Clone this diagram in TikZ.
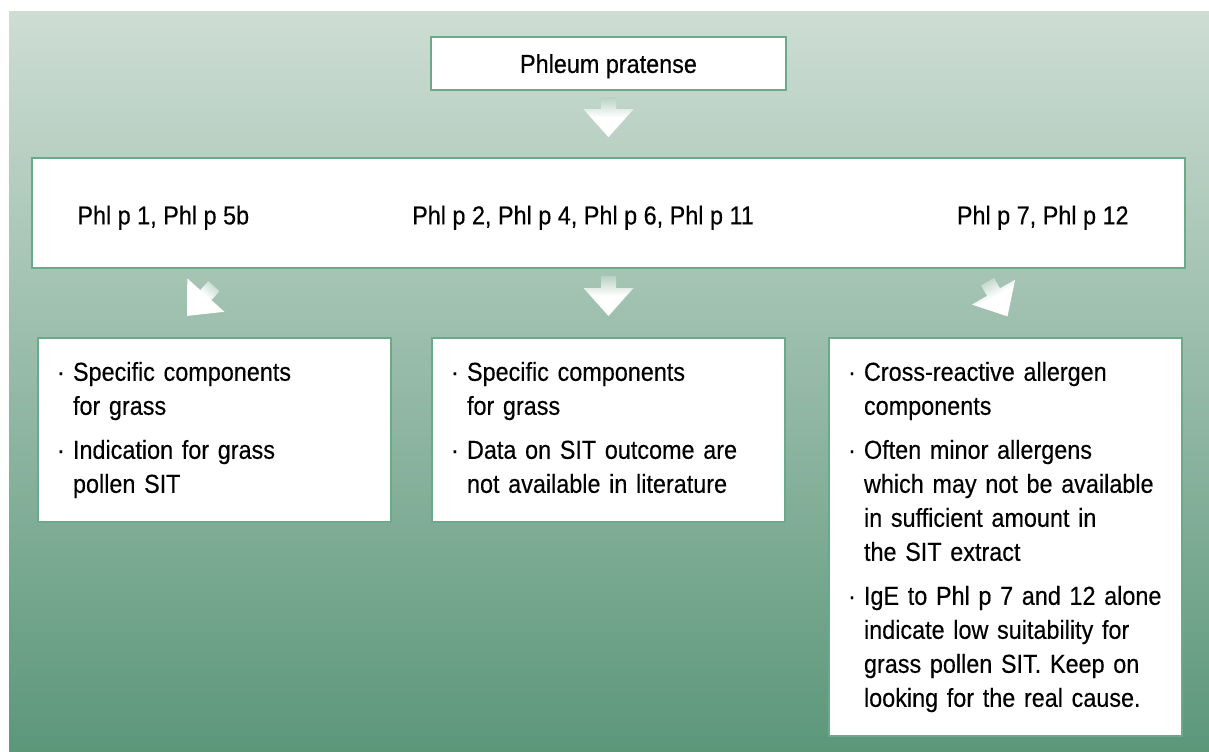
\documentclass[tikz,border=0pt]{standalone}
\usepackage{fontspec}
\setmainfont{Liberation Sans}[FakeStretch=0.9, FakeBold=0.3]
\usetikzlibrary{positioning, calc}

\definecolor{bgtop}{RGB}{206,221,212}
\definecolor{bgbot}{RGB}{92,151,122}
\definecolor{boxline}{RGB}{108,168,138}
\definecolor{tailc}{RGB}{185,210,196}

\newcommand{\dotitem}{\makebox[8pt][l]{\textperiodcentered}}

\begin{document}
\begin{tikzpicture}[
  x=0.5pt, y=-0.5pt,
  font=\fontsize{13}{17}\selectfont,
  box/.style={draw=boxline, line width=0.8pt, fill=white, inner sep=0pt, outer sep=0pt},
  txtbox/.style={box, anchor=north west, text width=157.5pt, inner xsep=9.5pt, inner ysep=9.5pt, align=left},
  lbl/.style={inner sep=0pt, text depth=0pt},
  blockarr/.pic={
    \shade[top color=tailc, bottom color=white, middle color=white, shading angle=#1]
      (-7.5,-20) -- (7.5,-20) -- (7.5,-8) -- (25,-8) -- (0,20) -- (-25,-8) -- (-7.5,-8) -- cycle;
  }
]
\useasboundingbox (0,0) rectangle (1209,751);
\shade[top color=bgtop, bottom color=bgbot] (9,11) rectangle (1209,751);

\node[box, minimum width=177.5pt, minimum height=26.5pt, text depth=0pt] (phl) at (608.5,63.5) {Phleum pratense};
\node[box, minimum width=576.5pt, minimum height=55pt, below=34pt of phl] (grp) {};

\node[lbl, anchor=west] (g1) at ([xshift=22.5pt, yshift=-1pt]grp.west) {Phl p 1, Phl p 5b};
\node[lbl] (g2) at ([xshift=-12.75pt, yshift=-1pt]grp.center) {Phl p 2, Phl p 4, Phl p 6, Phl p 11};
\node[lbl, anchor=east] (g3) at ([xshift=-28pt, yshift=-1pt]grp.east) {Phl p 7, Phl p 12};

\node[txtbox] (spec) at ([xshift=3pt, yshift=-35pt]grp.south west) {%
  \begin{tabular}{@{}l@{}}
  \dotitem Specific components\\
  \hspace*{8pt}for grass\\[5pt]
  \dotitem Indication for grass\\
  \hspace*{8pt}pollen SIT
  \end{tabular}};
\node[txtbox] (mid) at ([xshift=20.5pt]spec.north east) {%
  \begin{tabular}{@{}l@{}}
  \dotitem Specific components\\
  \hspace*{8pt}for grass\\[5pt]
  \dotitem Data on SIT outcome are\\
  \hspace*{8pt}not available in literature
  \end{tabular}};
\node[txtbox] (cross) at ([xshift=22pt]mid.north east) {%
  \begin{tabular}{@{}l@{}}
  \dotitem Cross-reactive allergen\\
  \hspace*{8pt}components\\[5pt]
  \dotitem Often minor allergens\\
  \hspace*{8pt}which may not be available\\
  \hspace*{8pt}in sufficient amount in\\
  \hspace*{8pt}the SIT extract\\[5pt]
  \dotitem IgE to Phl p 7 and 12 alone\\
  \hspace*{8pt}indicate low suitability for\\
  \hspace*{8pt}grass pollen SIT. Keep on\\
  \hspace*{8pt}looking for the real cause.
  \end{tabular}};

% block arrows
\pic at ($(phl.south)!0.4!(grp.north)$) {blockarr=0};
\pic at ($(grp.south)!0.4!(mid.north)$) {blockarr=0};
\pic[rotate=-42] at ([xshift=-7pt, yshift=18.5pt]spec.north) {blockarr=-42};
\pic[rotate=30] at ([xshift=-4pt, yshift=19.5pt]cross.north) {blockarr=30};
\end{tikzpicture}
\end{document}
